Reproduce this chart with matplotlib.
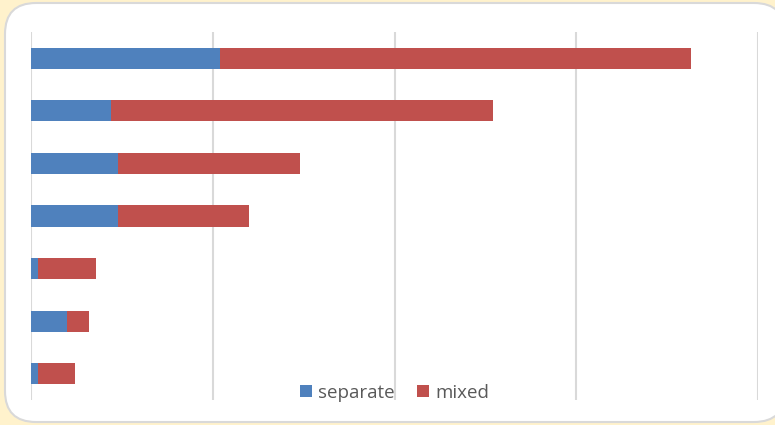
import matplotlib.pyplot as plt
from matplotlib.patches import FancyBboxPatch

categories = ['g1', 'g2', 'g3', 'g4', 'g5', 'g6', 'g7']
separate = [5.2, 2.2, 2.4, 2.4, 0.2, 1.0, 0.2]
mixed = [12.95, 10.5, 5.0, 3.6, 1.6, 0.6, 1.0]

fig = plt.figure(figsize=(7.75, 4.25), dpi=100)
fig.patch.set_facecolor('#FFF2CC')

# rounded white chart area
box = FancyBboxPatch((5 / 775, 3 / 425), 780 / 775, 419 / 425,
                     boxstyle='round,pad=0,rounding_size=0.04',
                     transform=fig.transFigure, facecolor='white',
                     edgecolor='#D9D9D9', linewidth=1.5,
                     mutation_aspect=775 / 425, zorder=-1)
fig.patches.append(box)

ax = fig.add_axes([31 / 775, 25 / 425, 727 / 775, 368 / 425])
ax.set_facecolor('none')
ax.set_zorder(1)

y = list(range(len(categories)))
ax.barh(y, separate, height=0.4, color='#4F81BD', label='separate', zorder=3)
ax.barh(y, mixed, left=separate, height=0.4, color='#C0504D', label='mixed', zorder=3)

ax.set_xlim(0, 20)
ax.set_ylim(6.5, -0.5)
ax.set_xticks([0, 5, 10, 15, 20])
ax.grid(axis='x', color='#D9D9D9', linewidth=1.5, zorder=0)
ax.tick_params(left=False, bottom=False, labelleft=False, labelbottom=False)
for s in ax.spines.values():
    s.set_visible(False)

leg = ax.legend(loc='center', bbox_to_anchor=(0.5, 0.02), ncol=2, frameon=False,
                handlelength=0.65, handleheight=0.65, handletextpad=0.3,
                columnspacing=1.2, prop={'family': 'Open Sans', 'size': 13.5})
for t in leg.get_texts():
    t.set_color('#595959')

fig.savefig('out.png', dpi=100, facecolor=fig.get_facecolor())
